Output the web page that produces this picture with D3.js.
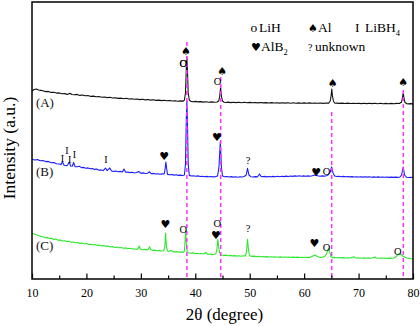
<!DOCTYPE html>
<html><head><meta charset="utf-8">
<script src="https://cdn.jsdelivr.net/npm/d3@7"></script>
<style>body{margin:0;background:#fff}svg{display:block}text{font-family:"Liberation Serif","Times New Roman",serif}</style>
</head><body>
<script>
// ---- data (2θ in degrees, intensity in arbitrary units) ----
const xTicks = [10,20,30,40,50,60,70,80];
const xMinorTicks = [15,25,35,45,55,65,75];
const traceA = [[10,188],[10.4,189.5],[10.8,190],[11.2,189],[11.6,188.6],[12,188.2],[12.5,187.4],[13,187.6],[13.5,186.6],[14,186.8],[14.5,185.9],[15,186.1],[15.5,185.2],[16,185.4],[16.5,184.6],[17,185.8],[17.3,184.5],[17.8,184.2],[18.3,184.6],[18.8,183.6],[19.3,184],[19.8,183.2],[20.3,183.5],[20.8,182.6],[21.3,182.9],[21.8,182.2],[22.3,182.5],[22.8,181.7],[23.3,182],[23.8,181.4],[24.3,181.8],[24.8,181],[25.3,181.3],[25.8,180.6],[26.3,180.9],[26.8,180.3],[27.3,180.7],[27.8,180],[28.3,180.3],[28.8,179.7],[29.3,180],[29.8,179.4],[30.3,179.7],[30.8,179.1],[31.3,179.5],[31.8,178.9],[32.3,179.2],[32.8,178.6],[33.3,178.9],[33.8,178.4],[34.3,178.7],[34.8,178.2],[35.3,178.5],[35.8,178],[36.3,178.3],[36.8,177.8],[37.3,178.1],[37.8,177.9],[38.0,179],[38.2,186],[38.35,210],[38.45,222],[38.55,210],[38.7,186],[38.9,179],[39.2,177.6],[39.6,177.3],[40,177.6],[40.5,177.1],[41,177.4],[41.5,176.9],[42,177.2],[42.5,176.8],[43,177.1],[43.5,176.7],[44,177],[44.3,178],[44.5,183],[44.65,192],[44.8,183],[45.0,178],[45.3,176.8],[45.7,176.5],[46,176.9],[46.5,176.4],[47,176.8],[47.5,176.4],[48,176.7],[48.5,176.3],[49,176.7],[49.5,176.2],[50,176.6],[50.5,176.2],[51,176.5],[51.5,176.1],[52,176.5],[52.5,176.1],[53,176.4],[53.5,176],[54,176.4],[54.5,176],[55,176.3],[55.5,175.9],[56,176.3],[56.5,175.9],[57,176.2],[57.5,175.8],[58,176.2],[58.5,175.8],[59,176.1],[59.5,175.8],[60,176.1],[60.5,175.7],[61,176.1],[61.5,175.7],[62,176],[62.5,175.7],[63,176],[63.5,175.6],[64,176],[64.5,175.9],[64.8,178],[64.95,183],[65.08,190],[65.2,183],[65.4,177.5],[65.7,175.7],[66,175.9],[66.5,175.6],[67,175.9],[67.5,175.5],[68,175.9],[68.5,175.5],[69,175.8],[69.5,175.5],[70,175.8],[70.5,175.4],[71,175.8],[71.5,175.4],[72,175.7],[72.5,175.4],[73,175.7],[73.5,175.3],[74,175.7],[74.5,175.3],[75,175.6],[75.5,175.3],[76,175.6],[76.5,175.2],[77,175.6],[77.5,175.5],[77.9,177],[78.05,181],[78.2,186],[78.35,181],[78.5,177],[78.8,175.4],[79.2,175.1],[79.6,175.4],[80,175.1]];
const traceB = [[10,119.7],[10.5,119],[11,119.4],[11.5,118.2],[12,118.5],[12.5,117.4],[13,117.6],[13.5,116.3],[14,116.5],[14.5,115.2],[15,115],[15.3,114.4],[15.6,117],[15.9,113.8],[16.3,113.2],[16.5,113.8],[16.85,117],[17.1,113],[17.4,112.8],[17.65,116.5],[17.9,112.4],[18.3,112.2],[18.7,112.8],[19.1,111.4],[19.5,111.6],[19.9,110.8],[20.3,111.1],[20.7,110.2],[21.1,110.4],[21.5,109.6],[21.9,109.9],[22.3,108.8],[22.7,109.1],[23.1,108.4],[23.5,111],[23.8,108.4],[24.3,111],[24.6,108],[25,107.6],[25.4,108],[25.8,107.3],[26.2,107.6],[26.6,107],[26.9,110],[27.2,106.8],[27.6,107],[28,106.4],[28.4,106.7],[28.8,106],[29.2,106.5],[29.6,107.5],[30,105.8],[30.4,106.1],[30.8,105.5],[31.2,105.8],[31.6,107.2],[31.9,105.3],[32.3,105.6],[32.7,105],[33.1,105.3],[33.5,104.8],[33.9,105.1],[34.3,105],[34.45,110],[34.6,117],[34.75,110],[34.9,104.6],[35.3,104.2],[35.7,104.5],[36.1,103.9],[36.5,104.2],[36.9,103.6],[37.3,103.9],[37.7,103.4],[38.0,104],[38.2,115],[38.35,160],[38.45,178],[38.55,160],[38.7,115],[38.9,103.6],[39.3,103],[39.7,103.3],[40.1,102.8],[40.5,103.1],[40.9,102.5],[41.3,102.8],[41.7,102.3],[42.1,102.6],[42.5,102.2],[42.9,102.5],[43.3,102.1],[43.7,102.4],[44.1,103],[44.35,112],[44.6,137],[44.8,112],[45.0,103],[45.4,102.2],[45.8,102.5],[46.2,102],[46.6,102.4],[47,101.9],[47.4,102.3],[47.8,101.8],[48.2,102.2],[48.6,102],[49,102.5],[49.35,104],[49.6,110.7],[49.85,104],[50.2,102.3],[50.6,102],[51,102.4],[51.4,102.1],[51.6,103.5],[51.8,105],[52,103],[52.3,102.2],[52.7,102.6],[53.1,102.1],[53.5,102.5],[53.9,102.2],[54.3,102.6],[54.7,102.2],[55.1,102.7],[55.5,102.3],[55.9,102.8],[56.3,102.4],[56.7,102.9],[57.1,102.5],[57.5,103],[57.9,102.6],[58.3,103.1],[58.7,102.7],[59.1,103.2],[59.5,102.8],[59.9,103.1],[60.3,102.7],[60.7,103.1],[61.1,102.8],[61.5,103.3],[61.9,104],[62.2,103.6],[62.5,103.2],[62.9,102.8],[63.3,103.1],[63.7,102.9],[64.1,103.3],[64.5,104.5],[64.8,107],[65.05,112],[65.3,106],[65.6,103],[66,102.5],[66.4,102.8],[66.8,102.3],[67.2,102.6],[67.6,102.2],[68,102.5],[68.4,102.1],[68.8,102.4],[69.2,102],[69.6,102.3],[70,102],[70.4,102.3],[70.8,101.9],[71.2,102.2],[71.6,101.9],[72,102.2],[72.4,101.8],[72.8,102.1],[73.2,101.8],[73.6,102.1],[74,101.7],[74.4,102],[74.8,101.7],[75.2,102],[75.6,101.6],[76,101.9],[76.4,101.6],[76.8,101.9],[77.2,101.6],[77.6,102],[77.9,104],[78.2,112],[78.45,104],[78.8,101.8],[79.2,101.5],[79.6,101.8],[80,101.5]];
const traceC = [[10,45.7],[10.4,45],[10.8,44.2],[11.2,43.4],[11.6,42.6],[12,42.2],[12.4,41.3],[12.8,41.6],[13.2,40.4],[13.6,40.7],[14,39.6],[14.4,39.9],[14.8,38.8],[15.2,39.1],[15.6,38],[16,38.3],[16.4,37.4],[16.8,37.7],[17.2,36.8],[17.6,37],[18,36.2],[18.4,36.5],[18.8,35.6],[19.2,35.9],[19.6,35],[20,35.4],[20.4,34.5],[20.8,34.8],[21.2,34],[21.6,34.4],[22,33.6],[22.4,33.9],[22.8,33.1],[23.2,33.4],[23.6,32.6],[24,32.9],[24.4,32.1],[24.8,32.4],[25.2,31.6],[25.6,31.9],[26,31.2],[26.4,31.5],[26.8,30.8],[27.2,31.1],[27.6,30.4],[28,30.7],[28.4,30],[28.8,30.3],[29.2,29.6],[29.5,30.5],[29.7,33],[29.9,30],[30.3,29.3],[30.7,29.6],[31.1,29],[31.4,30],[31.6,32.3],[31.8,29.5],[32.2,28.6],[32.6,28.9],[33,28.3],[33.4,28.6],[33.8,28],[34.2,28.3],[34.4,32],[34.55,46],[34.7,32],[34.9,28],[35.2,27.6],[35.5,28.8],[35.8,27.4],[36.2,27.1],[36.6,27.4],[37,26.8],[37.4,27.1],[37.8,26.6],[38.0,28],[38.1,36],[38.22,48],[38.35,36],[38.5,28],[38.7,26.3],[39.1,25.8],[39.5,26.1],[39.9,25.5],[40.3,25.8],[40.7,25.2],[41.1,25.5],[41.5,25],[41.9,26.5],[42.3,24.8],[42.7,24.9],[43.1,24.4],[43.5,24.7],[43.8,25.5],[44.0,31],[44.15,39.7],[44.3,32],[44.5,26],[44.8,24],[45.2,23.6],[45.6,23.9],[46,23.3],[46.4,23.6],[46.8,23.1],[47.2,23.4],[47.6,22.9],[48,23.2],[48.4,22.8],[48.8,23.1],[49.2,23],[49.4,27],[49.6,39.7],[49.8,28],[50,23.2],[50.4,22.6],[50.8,22.9],[51.2,22.4],[51.6,22.7],[52,22.2],[52.4,22.5],[52.8,22.1],[53.2,22.4],[53.6,22],[54,22.3],[54.4,21.9],[54.8,22.2],[55.2,21.8],[55.6,22.1],[56,21.7],[56.4,22],[56.8,21.7],[57.2,22],[57.6,21.6],[58,21.9],[58.4,21.6],[58.8,21.9],[59.2,21.5],[59.6,21.8],[60,21.5],[60.4,21.8],[60.8,21.4],[61.2,21.9],[61.6,23],[61.9,24],[62.2,23.2],[62.6,22],[63,21.6],[63.4,21.9],[63.8,22.5],[64.1,25],[64.45,30.7],[64.7,27],[64.9,22.5],[65.2,21.3],[65.6,21.6],[66,21.2],[66.4,21.5],[66.8,21.1],[67.2,21.4],[67.6,21],[68,21.3],[68.4,21],[68.8,21.6],[69.1,22.2],[69.4,21.2],[69.8,20.9],[70.2,21.2],[70.6,20.8],[71,21.1],[71.4,20.8],[71.8,21.1],[72.2,20.8],[72.6,21.2],[73,22],[73.3,21],[73.7,20.7],[74.1,21],[74.5,20.7],[74.9,21],[75.3,20.6],[75.7,20.9],[76.1,20.6],[76.5,21],[76.9,22.5],[77.2,24],[77.5,25.7],[77.8,24.5],[78.1,23],[78.5,21.8],[78.9,21],[79.3,20.6],[79.7,20.2],[80,20]];
const traceNames = ["(A)","(B)","(C)"];
const traceLabelY = [172,103,29];
const refLines = [38.45, 44.67, 65.06, 78.22];
const refLineTop = [237, 202, 167, 189];
const markSym = ["♠","♠","♠","♠","O","O","I","I","I","I","I","♥","O","♥","?","♥","O","♥","O","O","♥","?","♥","O","O"];
const markX  = [38.3,44.96,65.24,78.2,37.8,44.1,15.6,16.4,16.9,17.8,23.6,34.3,37.8,44.0,49.7,62.2,64.1,34.5,37.8,44.05,43.8,49.7,61.9,64.1,77.2];
const markY  = [228,208,196,197,216,197.5,120.7,128.3,119.7,124.7,119.7,122.3,216,141.7,119,106.3,108,55,50,55.5,43.5,51,35.7,31.7,28];
const legendSym = ["o","♠","I","♥","?"];
const legendText = ["LiH","Al","LiBH","AlB","unknown"];
const legendSub = ["","","4","2",""];

// ---- drawing ----
const W = 420, H = 326;
const m = {l:32, r:413, t:2, b:279};
const x = d3.scaleLinear().domain([10,80]).range([m.l, m.r]);
const y = d3.scaleLinear().domain([0,277]).range([m.b, m.t]);
const svg = d3.select("body").append("svg").attr("width",W).attr("height",H);

const colors = ["#111111","#1c1cff","#2ee82e"];
const line = d3.line().x(d=>x(d[0])).y(d=>y(d[1]));
[traceA,traceB,traceC].forEach((t,i)=>{
  svg.append("path").attr("d",line(t)).attr("fill","none")
    .attr("stroke",colors[i]).attr("stroke-width",1.1).attr("stroke-linejoin","round");
});

// reference dashed lines
svg.selectAll(".ref").data(refLines).enter().append("line")
  .attr("x1",d=>x(d)).attr("x2",d=>x(d))
  .attr("y1",(d,i)=>y(refLineTop[i])).attr("y2",y(0))
  .attr("stroke","#ff33ff").attr("stroke-width",1.5).attr("stroke-dasharray","4,3");

// trace labels
svg.selectAll(".tl").data(traceNames).enter().append("text")
  .attr("x",x(10.72)).attr("y",(d,i)=>y(traceLabelY[i]))
  .attr("font-size",13).attr("fill","#111").text(d=>d);

// peak markers
markSym.forEach((s,i)=>{
  const isSuit = (s==="♠"||s==="♥");
  svg.append("text").attr("x",x(markX[i])).attr("y",y(markY[i]))
    .attr("text-anchor","middle").attr("dominant-baseline","central")
    .attr("font-size", isSuit?11:(s==="I"?10:10.5))
    .style("font-family", isSuit?"DejaVu Sans":null)
    .attr("fill","#000").text(s);
});

// axes (ticks inward)
const gx = svg.append("g").attr("transform",`translate(0,${m.b})`)
  .call(d3.axisBottom(x).tickValues(xTicks).tickSize(-5.5).tickPadding(9.5).tickFormat(d3.format("d")));
gx.select(".domain").remove();
gx.selectAll("line").attr("stroke","#000").attr("stroke-width",1.2);
gx.selectAll("text").attr("font-size",12).attr("fill","#000").style("font-family","Liberation Serif");
const gm = svg.append("g").attr("transform",`translate(0,${m.b})`)
  .call(d3.axisBottom(x).tickValues(xMinorTicks).tickSize(-3.5).tickFormat(""));
gm.select(".domain").remove();
gm.selectAll("line").attr("stroke","#000").attr("stroke-width",1.2);

// frame
svg.append("rect").attr("x",m.l).attr("y",m.t).attr("width",m.r-m.l).attr("height",m.b-m.t)
  .attr("fill","none").attr("stroke","#000").attr("stroke-width",1.5);

// axis titles
svg.append("text").attr("x",(m.l+m.r)/2+2).attr("y",319.5).attr("text-anchor","middle")
  .attr("font-size",17).attr("fill","#000").text("2θ (degree)");
svg.append("text").attr("transform","translate(15,148) rotate(-90)").attr("text-anchor","middle")
  .attr("font-size",17.5).attr("fill","#000").text("Intensity (a.u.)");

// legend
const legPos = [[250.5,259,31.5],[308,318,31.5],[355,365,31.5],[251,261,50.5],[308,315,50.5]];
legendSym.forEach((s,i)=>{
  const p = legPos[i];
  const isSuit = (s==="♠"||s==="♥");
  svg.append("text").attr("x",p[0]).attr("y",p[2])
    .attr("font-size", isSuit?11:(s==="?"?10:13.5))
    .style("font-family", isSuit?"DejaVu Sans":null)
    .attr("fill","#000").text(s);
  const t = svg.append("text").attr("x",p[1]).attr("y",p[2]).attr("font-size",13.5).attr("fill","#000").text(legendText[i]);
  if (legendSub[i]) t.append("tspan").attr("font-size",8.5).attr("dy",4).text(legendSub[i]);
});
</script>
</body></html>
